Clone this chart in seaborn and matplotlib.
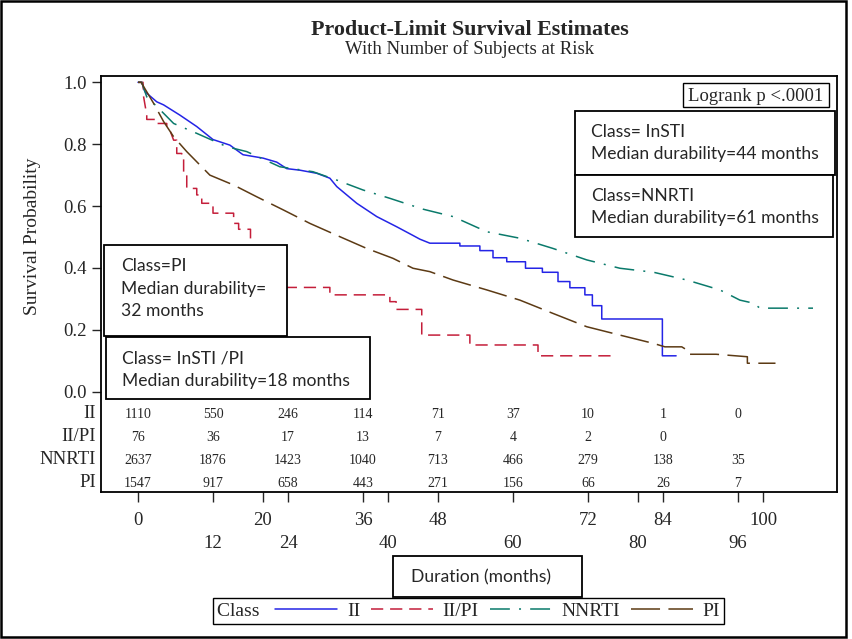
import pandas as pd
import matplotlib.pyplot as plt
import matplotlib.transforms as mtransforms
from matplotlib.patches import Rectangle
import seaborn as sns

# ---- data (months, survival probability); repeated months = step drops
classes = ["II", "II/PI", "NNRTI", "PI"]
colors = ["#2424e6", "#c41e3a", "#0a7a6b", "#5c3a14"]

ii_months = [0, 0.6, 1.1, 3.0, 4.1, 6.7, 9.4, 12.0, 14.7, 16.8, 20.0, 22.2, 23.8, 25.9,
             28.6, 30.7, 31.8, 35.0, 38.2, 41.4, 44.0, 45.1, 46.7, 51.5, 51.5, 54.7, 54.7,
             56.8, 56.8, 59.0, 59.0, 62.0, 62.0, 64.7, 64.7, 67.2, 67.2, 69.1, 69.1, 71.5,
             71.5, 72.7, 72.7, 74.2, 74.2, 83.9, 83.9, 86.1]
ii_surv = [1.0, 1.0, 0.97, 0.937, 0.927, 0.894, 0.857, 0.815, 0.797, 0.766, 0.755, 0.742, 0.721,
           0.716, 0.706, 0.69, 0.663, 0.609, 0.566, 0.533, 0.505, 0.493, 0.48, 0.48, 0.471,
           0.471, 0.456, 0.456, 0.433, 0.433, 0.42, 0.42, 0.399, 0.399, 0.386, 0.386, 0.356,
           0.356, 0.336, 0.336, 0.313, 0.313, 0.278, 0.278, 0.235, 0.235, 0.116, 0.116]

iipi_months = [0, 0.8, 0.9, 1.4, 1.4, 3.0, 3.0, 4.6, 4.6, 5.2, 5.7, 6.2, 6.2, 7.0, 7.0, 7.3,
               7.3, 7.8, 7.8, 9.4, 9.4, 10.2, 10.2, 12.0, 12.0, 15.3, 15.3, 16.1, 16.1, 18.0,
               18.0, 20.5, 20.5, 22.5, 22.5, 30.7, 30.7, 40.3, 40.3, 41.3, 41.3, 45.4, 45.4,
               53.1, 53.1, 64.0, 64.0, 75.8]
iipi_surv = [1.0, 1.0, 0.953, 0.894, 0.88, 0.88, 0.867, 0.867, 0.851, 0.84, 0.813, 0.813,
             0.77, 0.77, 0.76, 0.76, 0.70, 0.70, 0.657, 0.657, 0.636, 0.636, 0.609, 0.609,
             0.577, 0.577, 0.544, 0.544, 0.525, 0.525, 0.46, 0.46, 0.40, 0.40, 0.337, 0.337,
             0.313, 0.313, 0.291, 0.291, 0.266, 0.266, 0.183, 0.183, 0.151, 0.151, 0.116, 0.116]

nnrti_months = [0, 0.6, 1.4, 3.3, 5.7, 9.4, 14.2, 17.4, 22.7, 28.0, 31.8, 36.0, 40.3, 45.6,
                50.4, 55.8, 61.1, 66.4, 71.8, 77.1, 82.5, 87.8, 93.1, 96.3, 98.5, 99.5, 108.0]
nnrti_surv = [1.0, 1.0, 0.953, 0.916, 0.867, 0.835, 0.792, 0.776, 0.727, 0.711, 0.684, 0.652,
              0.625, 0.59, 0.566, 0.517, 0.496, 0.463, 0.426, 0.399, 0.386, 0.361, 0.329,
              0.296, 0.286, 0.27, 0.27]

pi_months = [0, 0.5, 2.5, 4.1, 5.7, 7.8, 11.5, 15.3, 19.0, 23.3, 27.5, 32.3, 36.6, 40.8, 44.0,
             46.7, 50.4, 55.8, 61.1, 66.4, 71.8, 77.1, 82.5, 84.3, 87.0, 88.3, 88.3, 92.5,
             97.5, 97.5, 102.0]
pi_surv = [1.0, 1.0, 0.932, 0.873, 0.824, 0.776, 0.70, 0.668, 0.63, 0.587, 0.544, 0.501,
           0.463, 0.431, 0.399, 0.388, 0.361, 0.329, 0.296, 0.253, 0.21, 0.183, 0.156, 0.145,
           0.145, 0.129, 0.121, 0.121, 0.113, 0.092, 0.092]

risk_months = [0, 12, 24, 36, 48, 60, 72, 84, 96]
risk_ii = ["1110", "550", "246", "114", "71", "37", "10", "1", "0"]
risk_iipi = ["76", "36", "17", "13", "7", "4", "2", "0", ""]
risk_nnrti = ["2637", "1876", "1423", "1040", "713", "466", "279", "138", "35"]
risk_pi = ["1547", "917", "658", "443", "271", "156", "66", "26", "7"]

xtick_values = [0, 12, 20, 24, 36, 40, 48, 60, 72, 80, 84, 96, 100]
xtick_labels = ["0", "\n12", "20", "\n24", "36", "\n40", "48", "\n60", "72", "\n80", "84", "\n96", "100"]
ytick_values = [0.0, 0.2, 0.4, 0.6, 0.8, 1.0]

frames = []
for cls, m, s in zip(classes, [ii_months, iipi_months, nnrti_months, pi_months],
                     [ii_surv, iipi_surv, nnrti_surv, pi_surv]):
    frames.append(pd.DataFrame({"Class": cls, "month": m, "surv": s}))
df = pd.concat(frames, ignore_index=True)

# ---- style
sns.set_style("ticks")
plt.rcParams["font.family"] = ["Liberation Serif", "DejaVu Serif"]
SANS = ["Lato", "DejaVu Sans"]

W, H = 852, 639
fig = plt.figure(figsize=(W / 100, H / 100), dpi=100)
# axes box in pixels: x 101..837, y 76..492
ax = fig.add_axes([101 / W, 1 - 492 / H, 736 / W, 416 / H])

dash_styles = ["", (8, 4.5), (13, 6, 1.3, 6), (19, 5.5)]
sns.lineplot(data=df, x="month", y="surv", hue="Class", style="Class",
             hue_order=classes, style_order=classes,
             palette=dict(zip(classes, colors)), dashes=dict(zip(classes, dash_styles)),
             sort=False, estimator=None, legend=False, linewidth=1.1, ax=ax)

ax.set_xlim(-5.92, 111.84)
ax.set_ylim(-0.3242, 1.0204)
ax.set_xticks(xtick_values)
ax.set_xticklabels(xtick_labels)
for lab in ax.get_xticklabels():
    lab.set_linespacing(1.4)
ax.set_yticks(ytick_values)
ax.set_yticklabels([f"{v:.1f}" for v in ytick_values])
ax.tick_params(axis="x", length=7.2, width=1.0, pad=7.5, labelsize=13.5, direction="out")
ax.tick_params(axis="y", length=6.5, width=1.0, pad=4, labelsize=13.5, direction="out")
for sp in ax.spines.values():
    sp.set_visible(True)
    sp.set_linewidth(1.3)
    sp.set_color("black")
ax.set_xlabel("")
ax.set_ylabel("Survival Probability", fontsize=14)
ax.yaxis.set_label_coords(-0.082, 0.615)

# number at risk table inside the axes
def px_to_y(py):
    return (391.7 - py) / 309.4

row_base = [418, 441, 464, 487]
blend = mtransforms.blended_transform_factory(ax.transAxes, ax.transData)
for name, counts, py in zip(classes, [risk_ii, risk_iipi, risk_nnrti, risk_pi], row_base):
    yv = px_to_y(py)
    ax.text(-0.007, yv, name, transform=blend, ha="right", va="baseline", fontsize=13.5,
            clip_on=False)
    for m, c in zip(risk_months, counts):
        ax.text(m, yv, c, ha="center", va="baseline", fontsize=10)

# ---- figure-level annotations (pixel helpers)
def fx(px):
    return px / W

def fy(py):
    return 1 - py / H

def box(x0, y0, x1, y1, lw=1.3):
    fig.add_artist(Rectangle((fx(x0), fy(y1)), (x1 - x0) / W, (y1 - y0) / H,
                             transform=fig.transFigure, facecolor="white",
                             edgecolor="black", lw=lw, zorder=5))

def note(px, py, s, **kw):
    fig.text(fx(px), fy(py), s, zorder=6, **kw)

note(470, 35, "Product-Limit Survival Estimates", ha="center", va="baseline",
     fontsize=15.8, fontweight="bold")
note(470, 54, "With Number of Subjects at Risk", ha="center", va="baseline", fontsize=13.5)

box(683, 83, 829, 107, lw=1.0)
note(756, 101, "Logrank p <.0001", ha="center", va="baseline", fontsize=13.5)

box(575, 111, 835, 175)
note(591, 132, "Class= InSTI", va="center", family=SANS, fontsize=12.6)
note(591, 154, "Median durability=44 months", va="center", family=SANS, fontsize=12.6)
box(575, 175, 833, 237)
note(591, 196, "Class=NNRTI", va="center", family=SANS, fontsize=12.6)
note(591, 218, "Median durability=61 months", va="center", family=SANS, fontsize=12.6)

box(104, 245, 287, 336)
note(121, 266, "Class=PI", va="center", family=SANS, fontsize=12.6)
note(121, 289, "Median durability=", va="center", family=SANS, fontsize=12.6)
note(121, 311, "32 months", va="center", family=SANS, fontsize=12.6)
box(106, 337, 370, 399)
note(122, 358, "Class= InSTI /PI", va="center", family=SANS, fontsize=12.6)
note(122, 381, "Median durability=18 months", va="center", family=SANS, fontsize=12.6)

box(393, 556, 582, 597)
note(411, 577, "Duration (months)", va="center", family=SANS, fontsize=12.6)

# legend with the title on the left
leg = fig.legend(ax.lines[:4], classes, title="Class ", ncol=4, loc="center",
                 bbox_to_anchor=(fx(468.5), fy(611)), bbox_transform=fig.transFigure,
                 frameon=True, fancybox=False, edgecolor="black", framealpha=1,
                 handlelength=3.2, handletextpad=0.5, columnspacing=0.55,
                 borderpad=0.2, borderaxespad=0, fontsize=14, title_fontsize=14)
leg.get_frame().set_linewidth(1.0)
packer = leg.get_children()[0]
title_area, columns = packer.get_children()
packer._children = [columns]
columns._children = [title_area] + columns.get_children()
leg.set_zorder(6)

# outer frame
fig.add_artist(Rectangle((fx(1), fy(637)), 845 / W, 636 / H, transform=fig.transFigure,
                         facecolor="none", edgecolor="black", lw=1.8, zorder=7))

fig.savefig("out.png", dpi=100)
